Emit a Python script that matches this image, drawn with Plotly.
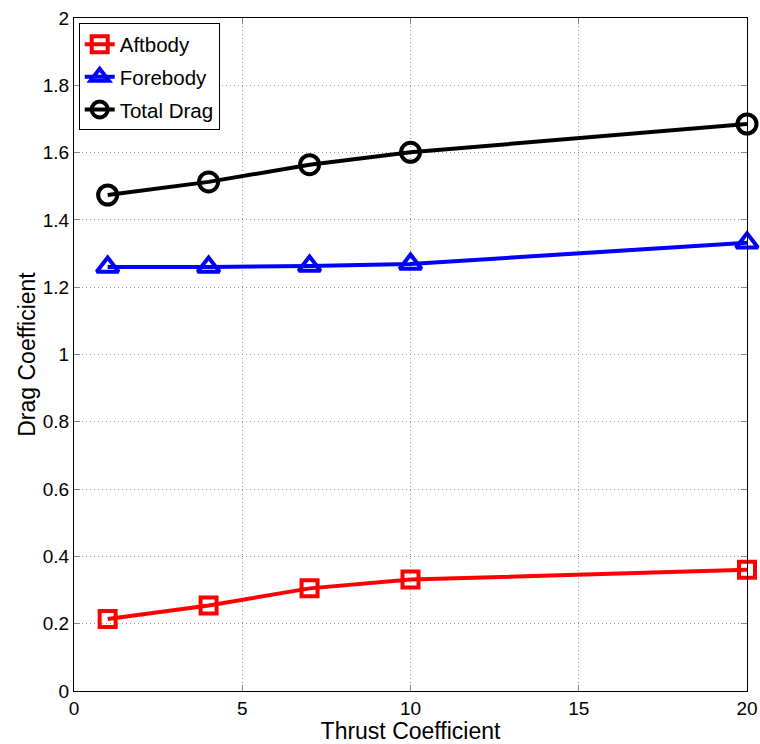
import plotly.graph_objects as go

thrust = [1, 4, 7, 10, 20]
aftbody = [0.214, 0.254, 0.305, 0.331, 0.360]
forebody = [1.260, 1.260, 1.263, 1.269, 1.332]
total = [1.474, 1.513, 1.564, 1.601, 1.685]

fig = go.Figure()
series = [
    ("Aftbody", aftbody, "#ff0000", "square-open", 16),
    ("Forebody", forebody, "#0000ff", "triangle-up-open", 19),
    ("Total Drag", total, "#000000", "circle-open", 19),
]
for name, vals, col, sym, msize in series:
    fig.add_trace(go.Scatter(
        x=thrust, y=vals, name=name, mode="lines+markers",
        legendgroup=name,
        line=dict(color=col, width=4),
        marker=dict(symbol=sym, size=msize, color=col, line=dict(width=4, color=col)),
        cliponaxis=False,
    ))

axis_common = dict(
    showline=True, linecolor="#000", linewidth=1, mirror="ticks",
    ticks="inside", ticklen=6, tickcolor="#888",
    showgrid=True, gridcolor="#999999", griddash="1px,3px", gridwidth=1,
    zeroline=False, automargin=False,
    tickfont=dict(family="Liberation Sans, Arial", size=19, color="#000"),
)
fig.update_layout(
    width=760, height=744,
    margin=dict(l=74, r=13, t=18, b=53),
    plot_bgcolor="white", paper_bgcolor="white",
    font=dict(family="Liberation Sans, Arial", color="#000"),
    xaxis=dict(range=[0, 20], tickvals=[0, 5, 10, 15, 20],
               title=dict(text="Thrust Coefficient", font=dict(size=23), standoff=2),
               **axis_common),
    yaxis=dict(range=[0, 2], tickvals=[0, 0.2, 0.4, 0.6, 0.8, 1, 1.2, 1.4, 1.6, 1.8, 2],
               ticktext=["0", "0.2", "0.4", "0.6", "0.8", "1", "1.2", "1.4", "1.6", "1.8", "2"],
               title=dict(text="Drag Coefficient", font=dict(size=23), standoff=0),
               **axis_common),
    legend=dict(x=0.007, y=0.992, xanchor="left", yanchor="top",
                bgcolor="white", bordercolor="#000", borderwidth=1,
                font=dict(size=20.5), itemwidth=30, tracegroupgap=3),
    showlegend=True,
)
fig.write_html(
    "out.html",
    config={"displayModeBar": False},
    post_script="document.body.style.margin='0';document.body.style.overflow='hidden';",
)
